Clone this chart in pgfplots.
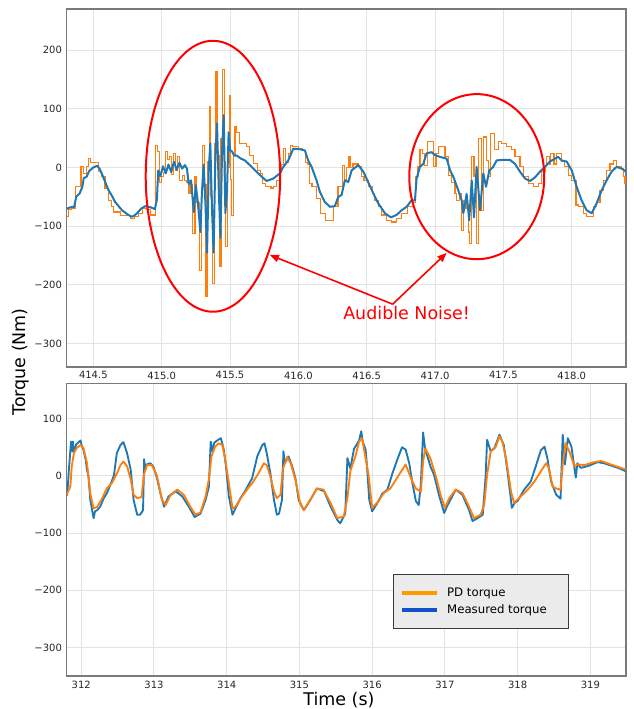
\documentclass[border=0pt]{standalone}
\usepackage{fontspec}
\setmainfont{DejaVu Sans}
\usepackage{pgfplots}
\pgfplotsset{compat=1.18}
\usetikzlibrary{arrows.meta}
\definecolor{tabblue}{HTML}{1F77B4}
\definecolor{taborange}{HTML}{FF7F0E}
\definecolor{legorange}{HTML}{FF9900}
\definecolor{legblue}{HTML}{1450C8}
\definecolor{gridc}{HTML}{E3E3E3}
\definecolor{spine}{HTML}{7A7A7A}
\definecolor{legbg}{HTML}{EBEBEB}
\definecolor{legborder}{HTML}{3A3A3A}
\pgfplotsset{
  panel/.style={
    scale only axis, width=419.5pt,
    axis line style={spine, line width=0.9pt},
    grid=major, major grid style={gridc, line width=0.7pt},
    major tick length=0pt,
    tick label style={font=\fontsize{7.5}{9}\selectfont, text=black!85},
    /pgf/number format/assume math mode=true,
    clip=true,
  }
}
\begin{document}
\begin{tikzpicture}
% ---------------- top panel ----------------
\begin{axis}[panel, at={(0pt,0pt)}, anchor=north west, height=268.5pt,
  xmin=414.305, xmax=418.397, ymin=-340, ymax=270,
  xtick={414.5,415,415.5,416,416.5,417,417.5,418},
  xticklabels={414.5,415.0,415.5,416.0,416.5,417.0,417.5,418.0},
  ytick={-300,-200,-100,0,100,200},
  yticklabels={−300,−200,−100,0,100,200}]
\addplot[taborange, line width=0.85pt, const plot] coordinates {
(414.30,-84) (414.32,-71) (414.34,-69) (414.37,-33) (414.40,-33) (414.41,1) (414.43,-10) (414.45,1)
(414.465,15) (414.48,8) (414.515,8) (414.535,-7) (414.56,-16) (414.585,-36) (414.61,-56) (414.63,-66)
(414.65,-76) (414.70,-82) (414.77,-87) (414.80,-84) (414.83,-78) (414.86,-70) (414.89,-71) (414.92,-81)
(414.955,38) (414.97,27) (414.985,-25) (415.00,-16) (415.015,-8) (415.025,27) (415.04,13) (415.055,19)
(415.07,-12) (415.085,24) (415.10,-5) (415.115,18) (415.13,-22) (415.15,-14) (415.17,-22) (415.185,-25)
(415.20,-45) (415.21,-30) (415.227,-112) (415.244,-16) (415.255,-60) (415.275,-176) (415.29,-40) (415.30,38)
(415.313,-30) (415.324,-219) (415.337,10) (415.349,103) (415.36,-50) (415.373,-197) (415.385,40) (415.397,163)
(415.41,20) (415.422,-169) (415.434,50) (415.446,167) (415.458,10) (415.47,-135) (415.483,0) (415.495,123)
(415.505,-20) (415.512,-82) (415.525,20) (415.536,69) (415.55,60) (415.57,41) (415.62,36) (415.645,20)
(415.67,7) (415.70,-5) (415.72,-10) (415.74,-27) (415.76,-33) (415.80,-35) (415.82,-33) (415.84,-22)
(415.86,-8) (415.875,5) (415.89,32) (415.905,9) (415.925,24) (415.945,38) (415.96,36) (416.00,32)
(416.03,29) (416.05,9) (416.065,6) (416.08,-28) (416.10,-33) (416.13,-53) (416.16,-78) (416.185,-78)
(416.20,-90) (416.255,-67) (416.28,-66) (416.29,-33) (416.32,4) (416.335,-20) (416.35,0) (416.37,18)
(416.38,0) (416.40,6) (416.44,1) (416.46,-16) (416.48,-22) (416.51,-33) (416.54,-44) (416.56,-56)
(416.585,-67) (416.61,-81) (416.645,-90) (416.68,-93) (416.72,-87) (416.755,-78) (416.80,-67) (416.84,-59)
(416.86,-16) (416.875,1) (416.89,30) (416.905,24) (416.92,4) (416.945,44) (416.963,44) (416.987,1)
(417.007,24) (417.024,36) (417.073,18) (417.097,-13) (417.121,-25) (417.146,-45) (417.158,-56) (417.182,-45)
(417.195,-107) (417.207,-56) (417.226,-70) (417.243,-110) (417.25,-129) (417.268,18) (417.285,-16) (417.304,-129)
(417.317,49) (417.341,-73) (417.353,52) (417.378,12) (417.39,-16) (417.407,58) (417.438,30) (417.463,44)
(417.487,41) (417.524,36) (417.56,30) (417.585,18) (417.621,1) (417.646,-16) (417.682,-28) (417.719,-33)
(417.755,-28) (417.78,-7) (417.804,1) (417.816,18) (417.84,6) (417.846,24) (417.87,6) (417.89,24)
(417.926,10) (417.95,1) (417.975,-13) (418.0,-22) (418.031,-64) (418.048,-67) (418.085,-78) (418.109,-84)
(418.146,-84) (418.158,-67) (418.182,-59) (418.207,-39) (418.231,-22) (418.255,-5) (418.28,6) (418.304,12)
(418.328,1) (418.365,-2) (418.377,-16) (418.39,-28) (418.41,-28)
};
\addplot[tabblue, line width=1.5pt, line join=round] coordinates {
(414.30,-71) (414.33,-68) (414.36,-67) (414.375,-50) (414.40,-44) (414.42,-33) (414.43,-18) (414.45,-16)
(414.47,-6) (414.50,0) (414.53,3) (414.55,-4) (414.575,-18) (414.61,-38) (414.64,-50) (414.66,-59)
(414.71,-73) (414.75,-80) (414.78,-84) (414.80,-82) (414.82,-78) (414.85,-70) (414.88,-66) (414.92,-68)
(414.95,-71) (414.965,-55) (414.975,-5) (414.99,-15) (415.01,2) (415.03,-10) (415.05,5) (415.07,-8)
(415.09,10) (415.11,-4) (415.13,8) (415.15,-2) (415.17,4) (415.185,-2) (415.198,-28) (415.215,-22)
(415.235,-76) (415.25,-30) (415.265,-60) (415.283,-110) (415.295,-40) (415.307,5) (415.32,-60) (415.332,-145)
(415.345,0) (415.356,41) (415.368,-70) (415.38,-145) (415.393,20) (415.405,75) (415.418,-40) (415.43,-120)
(415.442,30) (415.454,89) (415.466,-78) (415.478,-40) (415.49,60) (415.50,30) (415.515,27) (415.53,20)
(415.55,20) (415.58,15) (415.609,12) (415.658,1) (415.719,-13) (415.767,-23) (415.816,-19) (415.865,-10)
(415.89,1) (415.926,12) (415.963,32) (416.011,31) (416.048,29) (416.072,12) (416.097,1) (416.133,-22)
(416.158,-42) (416.194,-59) (416.231,-67) (416.267,-66) (416.292,-50) (416.316,-47) (416.34,-22) (416.365,-25)
(416.39,-5) (416.438,4) (416.475,-7) (416.511,-25) (416.548,-44) (416.584,-61) (416.633,-78) (416.677,-85)
(416.718,-81) (416.755,-73) (416.792,-67) (416.828,-56) (416.853,-56) (416.865,-19) (416.889,1) (416.914,6)
(416.938,24) (416.975,26) (417.0,21) (417.036,18) (417.085,15) (417.11,-5) (417.134,-16) (417.17,-39)
(417.195,-56) (417.207,-78) (417.231,-45) (417.25,-90) (417.268,-22) (417.285,-85) (417.304,1) (417.329,-73)
(417.353,-10) (417.373,-33) (417.397,-5) (417.426,1) (417.45,12) (417.5,13) (417.548,13) (417.585,6)
(417.621,-7) (417.658,-19) (417.695,-23) (417.731,-17) (417.768,-7) (417.804,1) (417.84,10) (417.877,15)
(417.9,18) (417.926,12) (417.963,10) (418.0,-5) (418.036,-33) (418.072,-56) (418.109,-73) (418.146,-78)
(418.182,-61) (418.219,-39) (418.255,-22) (418.292,-7) (418.328,1) (418.365,-2) (418.397,-7) (418.41,-8)
};
\draw[red, line width=1.5pt] (axis cs:415.375,-15) ellipse [x radius=50.4pt, y radius=101.6pt];
\draw[red, line width=1.5pt] (axis cs:417.305,-15.7) ellipse [x radius=50.6pt, y radius=61.9pt];
\draw[red, line width=1.2pt, -{Triangle[length=7pt,width=5.5pt]}] (axis cs:416.69,-233) -- (axis cs:415.79,-149);
\draw[red, line width=1.2pt, -{Triangle[length=7pt,width=5.5pt]}] (axis cs:416.69,-233) -- (axis cs:417.085,-145.5);
\node[red, font=\fontsize{13.1}{15}\selectfont] at (axis cs:416.792,-248.7) {Audible Noise!};
\end{axis}
% ---------------- bottom panel ----------------
\begin{axis}[panel, at={(0pt,-280.7pt)}, anchor=north west, height=219.5pt,
  xmin=311.8, xmax=319.49, ymin=-350, ymax=162,
  xtick={312,313,314,315,316,317,318,319},
  xticklabels={312,313,314,315,316,317,318,319},
  ytick={-300,-200,-100,0,100},
  yticklabels={−300,−200,−100,0,100},
  legend cell align=left,
  legend image code/.code={\draw[#1, line width=3pt] (0pt,0pt) -- (26pt,0pt);},
  legend style={at={(0.583,0.3485)}, anchor=north west, fill=legbg, draw=legborder,
    line width=1pt, font=\fontsize{8.8}{10}\selectfont, inner xsep=5.3pt, inner ysep=8pt,
    column sep=4pt, row sep=0.3pt}]
\addlegendimage{legorange}
\addlegendentry{PD torque}
\addlegendimage{legblue}
\addlegendentry{Measured torque\hspace*{9pt}}
\addplot[tabblue, line width=1.4pt, line join=round, forget plot] coordinates {
(311.80,-35) (311.815,-20) (311.83,10) (311.86,60) (311.875,43) (311.885,60) (311.90,40) (311.93,55)
(311.99,62) (312.01,52) (312.03,46) (312.06,29) (312.08,10) (312.10,-1) (312.125,-42) (312.17,-74)
(312.19,-62) (312.22,-60) (312.26,-54) (312.31,-39) (312.35,-31) (312.40,-16) (312.45,1) (312.49,40)
(312.54,54) (312.58,59) (312.63,40) (312.68,11) (312.72,-42) (312.77,-68) (312.81,-68) (312.85,-60)
(312.865,29) (312.88,11) (312.90,20) (312.95,22) (312.99,17) (313.04,-3) (313.09,-31) (313.14,-54)
(313.20,-36) (313.30,-27) (313.39,-36) (313.48,-54) (313.56,-72) (313.64,-66) (313.71,-42) (313.755,-19)
(313.78,60) (313.80,43) (313.83,58) (313.87,62) (313.92,66) (313.96,46) (313.99,17) (314.03,-36)
(314.08,-68) (314.12,-57) (314.19,-39) (314.26,-25) (314.35,-4) (314.42,34) (314.49,54) (314.52,57)
(314.55,40) (314.60,5) (314.65,-42) (314.69,-68) (314.72,-66) (314.76,-42) (314.78,43) (314.80,22)
(314.85,34) (314.90,17) (314.945,-4) (314.99,-42) (315.06,-60) (315.15,-42) (315.24,-22) (315.34,-27)
(315.43,-54) (315.52,-77) (315.56,-83) (315.63,-66) (315.66,31) (315.70,13) (315.75,47) (315.82,62)
(315.85,78) (315.87,60) (315.91,46) (315.93,15) (315.96,-42) (316.00,-62) (316.07,-48) (316.14,-31)
(316.21,-24) (316.28,5) (316.35,30) (316.41,50) (316.46,46) (316.51,22) (316.55,-10) (316.60,-44)
(316.64,-51) (316.67,-13) (316.70,76) (316.73,45) (316.76,34) (316.80,17) (316.85,2) (316.92,-34)
(316.99,-65) (317.03,-53) (317.15,-24) (317.24,-33) (317.33,-59) (317.38,-79) (317.45,-74) (317.52,-68)
(317.56,-1) (317.58,63) (317.63,43) (317.68,48) (317.75,72) (317.81,54) (317.86,8) (317.90,-33)
(317.92,-56) (317.96,-47) (318.00,-44) (318.09,-24) (318.18,-10) (318.25,17) (318.32,45) (318.37,51)
(318.41,30) (318.46,-10) (318.53,-33) (318.59,-40) (318.62,72) (318.65,20) (318.69,66) (318.74,51)
(318.78,14) (318.80,-3) (318.82,22) (318.87,14) (318.96,17) (319.10,24) (319.19,22) (319.38,14) (319.49,8)
};
\addplot[taborange, line width=1.4pt, line join=round, forget plot] coordinates {
(311.80,-33) (311.85,-19) (311.87,17) (311.90,40) (311.94,49) (311.99,54) (312.03,49) (312.08,22)
(312.125,-31) (312.17,-57) (312.22,-54) (312.29,-39) (312.35,-22) (312.42,-13) (312.49,4) (312.54,19)
(312.58,25) (312.63,17) (312.68,-6) (312.72,-33) (312.77,-39) (312.83,-37) (312.86,1) (312.905,19)
(312.97,19) (313.04,1) (313.11,-42) (313.16,-51) (313.23,-33) (313.32,-24) (313.41,-33) (313.50,-54)
(313.57,-68) (313.64,-64) (313.71,-36) (313.755,-6) (313.79,34) (313.84,51) (313.89,57) (313.94,54)
(313.98,29) (314.03,-13) (314.08,-57) (314.12,-54) (314.21,-36) (314.31,-19) (314.35,-13) (314.44,5)
(314.51,22) (314.55,19) (314.60,-1) (314.65,-27) (314.69,-39) (314.74,-33) (314.77,11) (314.83,33)
(314.88,22) (314.945,-7) (315.01,-48) (315.06,-60) (315.15,-42) (315.24,-22) (315.33,-24) (315.43,-48)
(315.52,-74) (315.61,-71) (315.66,-39) (315.70,8) (315.73,20) (315.77,34) (315.82,60) (315.86,66)
(315.91,31) (315.95,2) (316.00,-56) (316.07,-47) (316.16,-30) (316.25,-22) (316.37,2) (316.46,20)
(316.53,-3) (316.60,-22) (316.67,-28) (316.70,25) (316.73,48) (316.80,31) (316.87,2) (316.94,-33)
(317.00,-56) (317.06,-39) (317.15,-24) (317.24,-30) (317.33,-53) (317.40,-74) (317.49,-68) (317.54,-51)
(317.58,2) (317.63,43) (317.70,51) (317.75,69) (317.79,60) (317.84,31) (317.91,-28) (317.95,-47)
(318.02,-39) (318.14,-24) (318.23,-10) (318.32,8) (318.39,22) (318.43,14) (318.48,-19) (318.55,-23)
(318.59,-24) (318.62,20) (318.66,57) (318.71,43) (318.78,17) (318.82,20) (318.92,19) (319.05,24)
(319.15,26) (319.28,20) (319.49,11)
};
\end{axis}
\node[rotate=90, font=\fontsize{13.1}{15}\selectfont] at (-34.3pt,-264.75pt) {Torque (Nm)};
\node[font=\fontsize{13.1}{15}\selectfont] at (204.2pt,-518.25pt) {Time (s)};
\pgfresetboundingbox
\path (-50pt,6.75pt) rectangle (425.5pt,-525pt);
\end{tikzpicture}
\end{document}
